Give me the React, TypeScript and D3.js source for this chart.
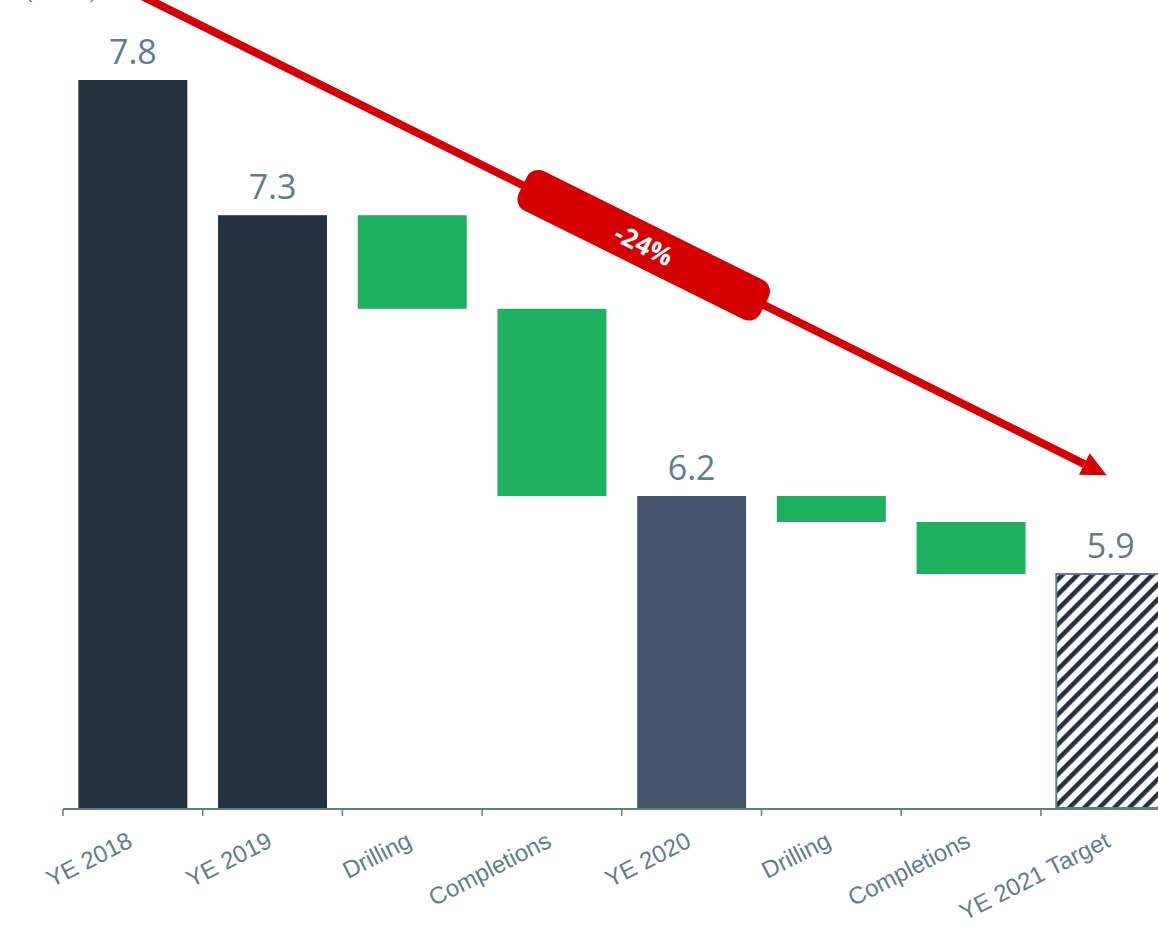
import React from "react";
import * as d3 from "d3";

// ---- data ----
const categories = ["YE 2018", "YE 2019", "Drilling", "Completions", "YE 2020", "Drilling", "Completions", "YE 2021 Target"];
const values = [7.8, 7.28, -0.36, -0.72, 6.2, -0.1, -0.2, 5.9];
const kinds = ["total", "total", "delta", "delta", "total", "delta", "delta", "target"];
const valueLabels = ["7.8", "7.3", "", "", "6.2", "", "", "5.9"];
const yDomain = [5, 8.2];
const changeLabel = "-24%";
const axisTitle = "($/Boe)";
// arrow annotation in data terms: [category index, value]
const arrowFrom = [0, 8.14];
const arrowTo = [7, 6.28];

const W = 1158;
const H = 932;

export default function App() {
  const idx = categories.map((_, i) => i);
  const x = d3.scaleBand<number>().domain(idx).range([63, 1180.6]).paddingInner(0.22).paddingOuter(0.11);
  const step = x.step();
  const bw = x.bandwidth();
  const y = d3.scaleLinear().domain(yDomain).range([808, 808 - (yDomain[1] - yDomain[0]) * 260]);

  // waterfall positions
  let running = 0;
  const bars = values.map((v, i) => {
    const k = kinds[i];
    if (k === "delta") {
      const top = running;
      running = running + v;
      return { i, y0: Math.max(top, running), y1: Math.min(top, running), kind: k };
    }
    running = v;
    return { i, y0: v, y1: yDomain[0], kind: k };
  });

  const fillFor = (k: string, i: number) => {
    if (k === "delta") return "#1db05e";
    if (k === "target") return "url(#hatch)";
    if (i === 4) return "#44546a";
    return "#243141";
  };

  const cx = (i: number) => (x(i) as number) + bw / 2;
  const tickXs = idx.map((i) => (x(i) as number) - (step - bw) / 2);

  // arrow geometry
  const ax0 = cx(arrowFrom[0]);
  const ay0 = y(arrowFrom[1]);
  const ax1 = cx(arrowTo[0]) - 4;
  const ay1 = y(arrowTo[1]);
  const ang = Math.atan2(ay1 - ay0, ax1 - ax0);
  const deg = (ang * 180) / Math.PI;
  const ux = Math.cos(ang);
  const uy = Math.sin(ang);
  const headL = 25;
  const headW = 12;
  const bx = ax1 - headL * ux;
  const by = ay1 - headL * uy;
  const head = [
    [ax1, ay1],
    [bx - headW * uy, by + headW * ux],
    [bx + headW * uy, by - headW * ux],
  ];
  const t = 0.5245;
  const mx = ax0 + (ax1 - ax0) * t;
  const my = ay0 + (ay1 - ay0) * t;

  const blue = "#607d8b";

  return (
    <svg
      width={W}
      height={H}
      style={{ position: "absolute", left: 0, top: 0, overflow: "hidden", background: "#fff" }}
    >
      <defs>
        <pattern id="hatch" width="10.6" height="10.6" patternUnits="userSpaceOnUse" patternTransform="rotate(45)">
          <rect width="10.6" height="10.6" fill="#ffffff" />
          <rect width="4.6" height="10.6" fill="#243141" />
        </pattern>
      </defs>

      <text x={25} y={-3} fontFamily="Liberation Sans, Arial, sans-serif" fontSize={22} fill={blue}>
        {axisTitle}
      </text>

      {bars.map((b) => (
        <rect
          key={b.i}
          x={x(b.i)}
          y={y(b.y0)}
          width={bw}
          height={y(b.y1) - y(b.y0)}
          fill={fillFor(b.kind, b.i)}
          stroke={b.kind === "target" ? blue : "none"}
          strokeWidth={b.kind === "target" ? 2 : 0}
        />
      ))}

      {bars.map((b) =>
        valueLabels[b.i] ? (
          <text
            key={"v" + b.i}
            x={cx(b.i)}
            y={y(b.y0) - 16}
            textAnchor="middle"
            fontFamily="Open Sans, sans-serif"
            fontSize={34}
            fill={blue}
          >
            {valueLabels[b.i]}
          </text>
        ) : null
      )}

      {/* axis */}
      <line x1={63} x2={W} y1={809} y2={809} stroke={blue} strokeWidth={2} />
      {tickXs.map((tx, i) => (
        <line key={"t" + i} x1={tx} x2={tx} y1={809} y2={816} stroke={blue} strokeWidth={1.5} />
      ))}
      {idx.map((i) => (
        <text
          key={"l" + i}
          transform={`translate(${cx(i) + 1},${846}) rotate(-27)`}
          textAnchor="end"
          fontFamily="Liberation Sans, Arial, sans-serif"
          fontSize={24}
          fill={blue}
        >
          {categories[i]}
        </text>
      ))}

      {/* arrow */}
      <line x1={ax0} y1={ay0} x2={bx} y2={by} stroke="#d50000" strokeWidth={8} />
      <polygon points={head.map((p) => p.join(",")).join(" ")} fill="#d50000" />
      <g transform={`translate(${mx},${my}) rotate(${deg})`}>
        <rect x={-135} y={-22} width={270} height={44} rx={13} ry={13} fill="#d50000" />
        <text
          x={0}
          y={9}
          textAnchor="middle"
          fontFamily="Open Sans, sans-serif"
          fontWeight="bold"
          fontSize={26}
          fill="#ffffff"
        >
          {changeLabel}
        </text>
      </g>
    </svg>
  );
}
